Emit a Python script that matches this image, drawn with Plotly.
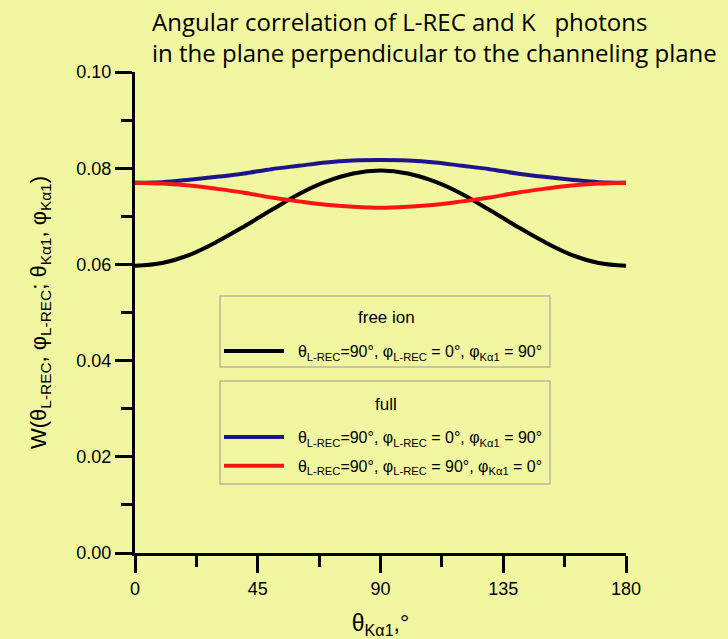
import plotly.graph_objects as go

# ---- data ----
theta = [0, 10, 20, 30, 40, 50, 60, 70, 80, 90,
         100, 110, 120, 130, 140, 150, 160, 170, 180]
w_free_ion = [0.0597, 0.0603, 0.0620, 0.0647, 0.0679, 0.0713, 0.0746, 0.0772, 0.0789, 0.0795,
              0.0789, 0.0772, 0.0746, 0.0713, 0.0679, 0.0647, 0.0620, 0.0603, 0.0597]
w_full_phi0 = [0.0770, 0.0771, 0.0776, 0.0782, 0.0789, 0.0798, 0.0805, 0.0812, 0.0816, 0.0817,
               0.0816, 0.0812, 0.0805, 0.0798, 0.0789, 0.0782, 0.0776, 0.0771, 0.0770]
w_full_phi90 = [0.0770, 0.0768, 0.0764, 0.0757, 0.0749, 0.0739, 0.0731, 0.0724, 0.0720, 0.0718,
                0.0720, 0.0724, 0.0731, 0.0739, 0.0749, 0.0757, 0.0764, 0.0768, 0.0770]

x_ticks = [0, 45, 90, 135, 180]
y_ticks = [0.00, 0.02, 0.04, 0.06, 0.08, 0.10]

SP = "\u00a0\u00a0"
label_a = SP + "θ<sub>L-REC</sub>=90°, φ<sub>L-REC</sub> = 0°, φ<sub>Kα1</sub> = 90°"
label_b = SP + "θ<sub>L-REC</sub>=90°, φ<sub>L-REC</sub> = 90°, φ<sub>Kα1</sub> = 0°"

BG = "rgb(240,247,160)"
BOX = "rgb(185,185,150)"
W, H = 728, 639
L, R, T, B = 135, 728 - 626, 72, 639 - 553

fig = go.Figure()
fig.add_trace(go.Scatter(x=theta, y=w_free_ion, mode="lines", name=label_a,
                         line=dict(color="black", width=4, shape="spline"),
                         legend="legend", legendgroup="a"))
fig.add_trace(go.Scatter(x=theta, y=w_full_phi0, mode="lines", name=label_a,
                         line=dict(color="rgb(30,20,140)", width=4, shape="spline"),
                         legend="legend2", legendgroup="b"))
fig.add_trace(go.Scatter(x=theta, y=w_full_phi90, mode="lines", name=label_b,
                         line=dict(color="rgb(255,20,20)", width=4, shape="spline"),
                         legend="legend2", legendgroup="c"))

pw = W - L - R
ph = H - T - B

def px(xpix):
    return (xpix - L) / pw

def py(ypix):
    return (H - B - ypix) / ph

legend_common = dict(
    bgcolor="rgba(0,0,0,0)", borderwidth=0,
    font=dict(family="Liberation Sans", size=16, color="black"),
    xanchor="left", yanchor="middle", itemwidth=60, tracegroupgap=5,
)

def box(x0, y0, x1, y1):
    return dict(type="rect", xref="paper", yref="paper",
                x0=px(x0), x1=px(x1), y0=py(y1), y1=py(y0),
                line=dict(color=BOX, width=1.5), fillcolor="rgba(0,0,0,0)", layer="below")

def label(text, xc, yc, size=17):
    return dict(text=text, xref="paper", yref="paper", x=px(xc), y=py(yc),
                xanchor="center", yanchor="middle", showarrow=False,
                font=dict(family="Liberation Sans", size=size, color="black"))

fig.update_layout(
    width=W, height=H,
    margin=dict(l=L, r=R, t=T, b=B, autoexpand=False),
    paper_bgcolor=BG, plot_bgcolor=BG,
    shapes=[box(220, 296, 550, 367), box(220, 381, 550, 484)],
    annotations=[
        dict(text="Angular correlation of L-REC and K   photons<br>in the plane perpendicular to the channeling plane",
             xref="paper", yref="paper", x=px(150), y=py(3),
             xanchor="left", yanchor="top", align="left", showarrow=False,
             font=dict(family="Open Sans", size=24, color="black")),
        label("free ion", 386, 317),
        label("full", 386, 404),
    ],
    legend=dict(x=px(219), y=py(351), **legend_common),
    legend2=dict(x=px(219), y=py(451.5), **legend_common),
    xaxis=dict(
        range=[0, 180], tickvals=x_ticks, ticktext=[str(v) for v in x_ticks],
        showline=True, linecolor="black", linewidth=3, mirror=False,
        ticks="outside", ticklen=17, tickwidth=3, tickcolor="black",
        minor=dict(dtick=22.5, ticklen=11, tickwidth=3, tickcolor="black", ticks="outside"),
        showgrid=False, zeroline=False,
        tickfont=dict(family="Liberation Sans", size=18, color="black"),
        title=dict(text="θ<sub>Kα1</sub>,°", standoff=32,
                   font=dict(family="Liberation Sans", size=23, color="black")),
    ),
    yaxis=dict(
        range=[0, 0.10], tickvals=y_ticks, ticktext=[f"{v:.2f}" for v in y_ticks],
        showline=True, linecolor="black", linewidth=3,
        ticks="outside", ticklen=17, tickwidth=3, tickcolor="black",
        minor=dict(dtick=0.01, ticklen=11, tickwidth=3, tickcolor="black", ticks="outside"),
        showgrid=False, zeroline=False,
        tickfont=dict(family="Liberation Sans", size=18, color="black"),
        title=dict(text="W(θ<sub>L-REC</sub>, φ<sub>L-REC</sub>; θ<sub>Kα1</sub>, φ<sub>Kα1</sub>)",
                   standoff=24,
                   font=dict(family="Liberation Sans", size=22, color="black")),
    ),
    showlegend=True,
)

fig.write_html("out.html")
